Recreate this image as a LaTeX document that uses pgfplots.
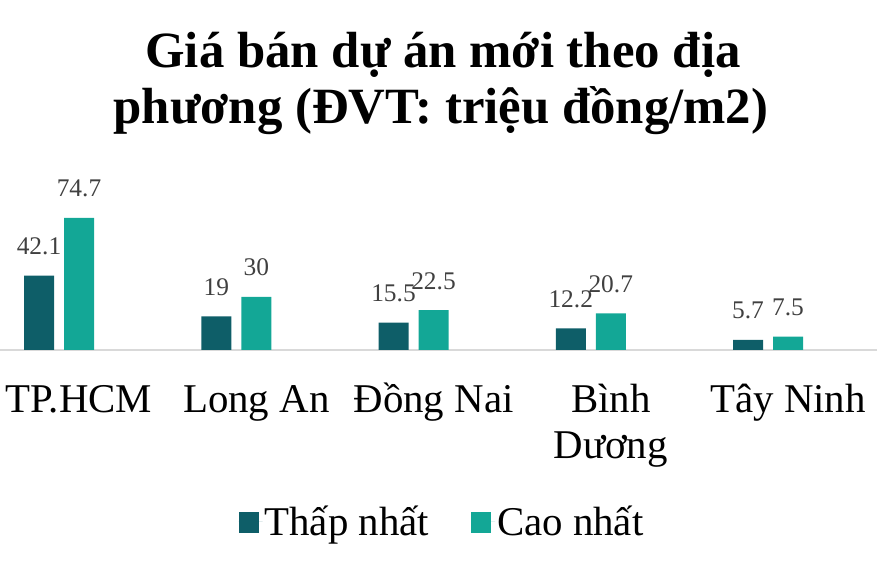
\documentclass[border=0pt]{standalone}
\usepackage{pgfplots}
\pgfplotsset{compat=1.18}
\usepackage{fontspec}
\setmainfont{Liberation Serif}
\definecolor{darkteal}{RGB}{14,94,104}
\definecolor{lightteal}{RGB}{19,167,150}
\definecolor{valgray}{RGB}{64,64,64}
\definecolor{axisgray}{RGB}{217,217,217}
\begin{document}
\begin{tikzpicture}
\useasboundingbox (0,0) rectangle (890bp,576bp);
\node[font=\fontsize{51}{57}\selectfont\bfseries, anchor=base] at (443bp,508bp) {Giá bán dự án mới theo địa};
\node[font=\fontsize{51}{57}\selectfont\bfseries, anchor=base] at (441bp,452bp) {phương (ĐVT: triệu đồng/m2)};
\begin{axis}[
    at={(0bp,226bp)}, anchor=south west,
    scale only axis, width=877bp, height=141.4bp,
    ybar=10bp, bar width=30bp,
    xmin=-0.333, xmax=4.615, ymin=0, ymax=80,
    axis y line=none, axis x line*=bottom,
    x axis line style={axisgray, line width=2.5bp},
    xtick=data,
    xticklabels={TP.HCM, Long An, Đồng Nai, {\begin{tabular}[t]{@{}c@{}}Bình\\Dương\end{tabular}}, Tây Ninh},
    major tick length=0pt,
    xticklabel style={font=\fontsize{41}{47}\selectfont, anchor=base, inner sep=0pt, yshift=-62bp, xshift=20bp},
    nodes near coords={\pgfmathprintnumber{\pgfplotspointmeta}},
    /pgf/number format/assume math mode=true,
    every node near coord/.append style={font=\fontsize{25.5}{30}\selectfont, text=valgray, anchor=base, inner sep=0pt, yshift=21bp},
    clip=false,
    legend columns=2,
    legend image code/.code={\fill[#1] (0bp,-12bp) rectangle (20bp,9bp); \path (0bp,0bp) -- (24bp,0bp);},
    legend style={at={(0.5040,-1.21)}, anchor=center, draw=none, fill=none,
        font=\fontsize{41}{47}\selectfont,
        /tikz/every even column/.append style={column sep=40bp}},
]
\addplot[fill=darkteal, draw=none] coordinates {(0,42.1) (1,19) (2,15.5) (3,12.2) (4,5.7)};
\addplot[fill=lightteal, draw=none] coordinates {(0,74.7) (1,30) (2,22.5) (3,20.7) (4,7.5)};
\legend{Thấp nhất, Cao nhất}
\end{axis}
\end{tikzpicture}
\end{document}
